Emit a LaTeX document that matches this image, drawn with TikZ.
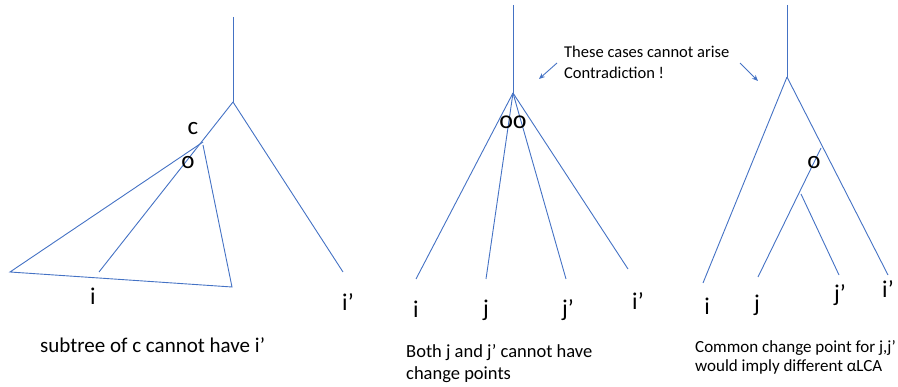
\documentclass[tikz,border=0pt]{standalone}
\usepackage{fontspec}
\setmainfont{Carlito}
\usetikzlibrary{arrows.meta}
\definecolor{treeblue}{HTML}{4472C4}
\tikzset{
  edge/.style={draw=treeblue, line width=0.9pt},
  pointer/.style={draw=treeblue, line width=0.9pt, -{Stealth[length=6pt,width=5pt]}},
  leaf/.style={anchor=base, inner sep=0pt, font=\fontsize{24}{28}\selectfont},
  cpmark/.style={inner sep=0pt, font=\fontsize{25}{28}\selectfont},
  caption/.style={anchor=base west, inner sep=0pt, align=left},
}
\begin{document}
\begin{tikzpicture}[x=1pt,y=-1pt]
\useasboundingbox (0,0) rectangle (898,387);
% ---------- left tree ----------
\coordinate (Ltop) at (233,17);
\coordinate (Lroot) at (233,102);
\coordinate (Lc) at (203,142);
\coordinate (Lc2) at (203,145);
\coordinate (Li) at (99,272);
\coordinate (Lip) at (343,272);
\coordinate (Ltl) at (10,272);
\coordinate (Ltr) at (232,287);
\draw[edge] (Ltop) -- (Lroot);
\draw[edge] (Lroot) -- (Li);
\draw[edge] (Lroot) -- (Lip);
\draw[edge] (Lc) -- (Ltl) -- (Ltr) -- (Lc2);
\node[cpmark] (lc) at (193,129) {c};
\node[cpmark] (lo) at (188,163) {o};
\node[leaf] (li) at (93,305) {i};
\node[leaf] (lip) at (348,311) {i’};
\node[caption, font=\fontsize{21}{25}\selectfont] (lcap) at (40,353) {subtree of c cannot have i’};
% ---------- middle tree ----------
\coordinate (Mtop) at (513,5);
\coordinate (Mroot) at (513,93);
\coordinate (Mi) at (416,279);
\coordinate (Mj) at (486,279);
\coordinate (Mjp) at (566,279);
\coordinate (Mip) at (628,269);
\draw[edge] (Mtop) -- (Mroot);
\draw[edge] (Mroot) -- (Mi);
\draw[edge] (Mroot) -- (Mj);
\draw[edge] (Mroot) -- (Mjp);
\draw[edge] (Mroot) -- (Mip);
\node[cpmark, font=\fontsize{26}{28}\selectfont] (moo) at (513,122) {oo};
\node[leaf] (mi) at (416,318) {i};
\node[leaf] (mj) at (486,317) {j};
\node[leaf] (mjp) at (568,317) {j’};
\node[leaf] (mip) at (638,310) {i’};
\node[caption, font=\fontsize{18.5}{22}\selectfont] (mcap) at (406,380) {Both j and j’ cannot have\\change points};
% ---------- note ----------
\node[caption, font=\fontsize{16.5}{21}\selectfont] (note) at (564,79) {These cases cannot arise\\Contradiction !};
\coordinate (a1s) at (557,63);
\coordinate (a1e) at (539,79);
\coordinate (a2s) at (740,63);
\coordinate (a2e) at (758,81);
\draw[pointer] (a1s) -- (a1e);
\draw[pointer] (a2s) -- (a2e);
% ---------- right tree ----------
\coordinate (Rtop) at (787,5);
\coordinate (Rroot) at (787,77);
\coordinate (Ri) at (703,283);
\coordinate (Rip) at (888,275);
\coordinate (Ro) at (821,148);
\coordinate (Rj) at (758,277);
\coordinate (Rs) at (801,194);
\coordinate (Rjp) at (839,275);
\draw[edge] (Rtop) -- (Rroot);
\draw[edge] (Rroot) -- (Ri);
\draw[edge] (Rroot) -- (Rip);
\draw[edge] (Ro) -- (Rj);
\draw[edge] (Rs) -- (Rjp);
\node[cpmark] (ro) at (814,163) {o};
\node[leaf] (ri) at (707,315) {i};
\node[leaf] (rj) at (757,312) {j};
\node[leaf] (rjp) at (840,302) {j’};
\node[leaf] (rip) at (888,298) {i’};
\node[caption, font=\fontsize{17}{19.5}\selectfont] (rcap) at (695,372) {Common change point for j,j’\\would imply different αLCA};
\end{tikzpicture}
\end{document}
